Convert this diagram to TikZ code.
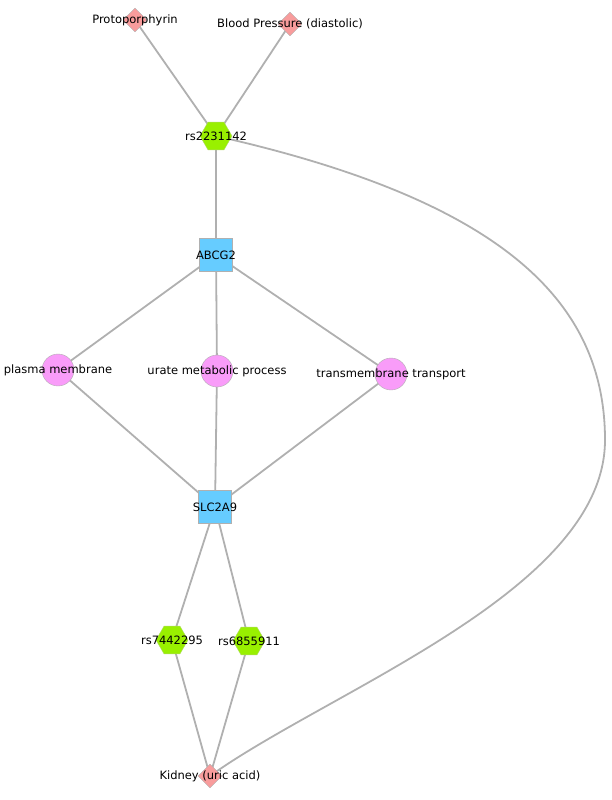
\documentclass[tikz,border=0pt]{standalone}
\usepackage{fontspec}
\setmainfont{DejaVu Sans}
\usetikzlibrary{shapes.geometric}
\definecolor{edgegray}{HTML}{B0B0B0}
\definecolor{traitred}{HTML}{F89C9C}
\definecolor{snpgreen}{HTML}{99F000}
\definecolor{geneblue}{HTML}{66CCFF}
\definecolor{gopink}{HTML}{F99CF9}
\pgfdeclarelayer{bg}
\pgfsetlayers{bg,main}
\begin{document}
\begin{tikzpicture}[x=1pt,y=-1pt,
  font=\fontsize{11.5pt}{13pt}\selectfont,
  link/.style={draw=edgegray,line width=1.8pt},
  trait/.style={diamond,fill=traitred,draw=edgegray,minimum size=24pt,inner sep=0pt},
  snp/.style={regular polygon,regular polygon sides=6,fill=snpgreen,draw=snpgreen!80!black!60,minimum size=32pt,inner sep=0pt},
  gene/.style={rectangle,fill=geneblue,draw=edgegray,minimum size=33pt,inner sep=0pt},
  go/.style={circle,fill=gopink,draw=edgegray,minimum size=32pt,inner sep=0pt}]
\useasboundingbox (0,0) rectangle (611,800);

\node[trait,label=center:Protoporphyrin] (proto) at (135,20) {};
\node[trait,label=center:Blood Pressure (diastolic)] (bp) at (290,24) {};
\node[snp,label=center:rs2231142] (rsA) at (216,136) {};
\node[gene,label=center:ABCG2] (abcg) at (216,255) {};
\node[go,label=center:plasma membrane] (pm) at (58,370) {};
\node[go,label=center:urate metabolic process] (ump) at (217,371) {};
\node[go,label=center:transmembrane transport] (tt) at (391,374) {};
\node[gene,label=center:SLC2A9] (slc) at (215,507) {};
\node[snp,label=center:rs7442295] (rsB) at (172,640) {};
\node[snp,label=center:rs6855911] (rsC) at (249,641) {};
\node[trait,label=center:Kidney (uric acid)] (kid) at (210,776) {};

\begin{pgfonlayer}{bg}
\draw[link] (proto.center) -- (rsA.center);
\draw[link] (bp.center) -- (rsA.center);
\draw[link] (rsA.center) -- (abcg.center);
\draw[link] (abcg.center) -- (pm.center);
\draw[link] (abcg.center) -- (ump.center);
\draw[link] (abcg.center) -- (tt.center);
\draw[link] (pm.center) -- (slc.center);
\draw[link] (ump.center) -- (slc.center);
\draw[link] (tt.center) -- (slc.center);
\draw[link] (slc.center) -- (rsB.center);
\draw[link] (slc.center) -- (rsC.center);
\draw[link] (rsB.center) -- (kid.center);
\draw[link] (rsC.center) -- (kid.center);
\draw[link] (rsA.center) .. controls (500,200) and (605,300) .. (605,440)
  .. controls (605,590) and (330,690) .. (kid.center);
\end{pgfonlayer}
\end{tikzpicture}
\end{document}
